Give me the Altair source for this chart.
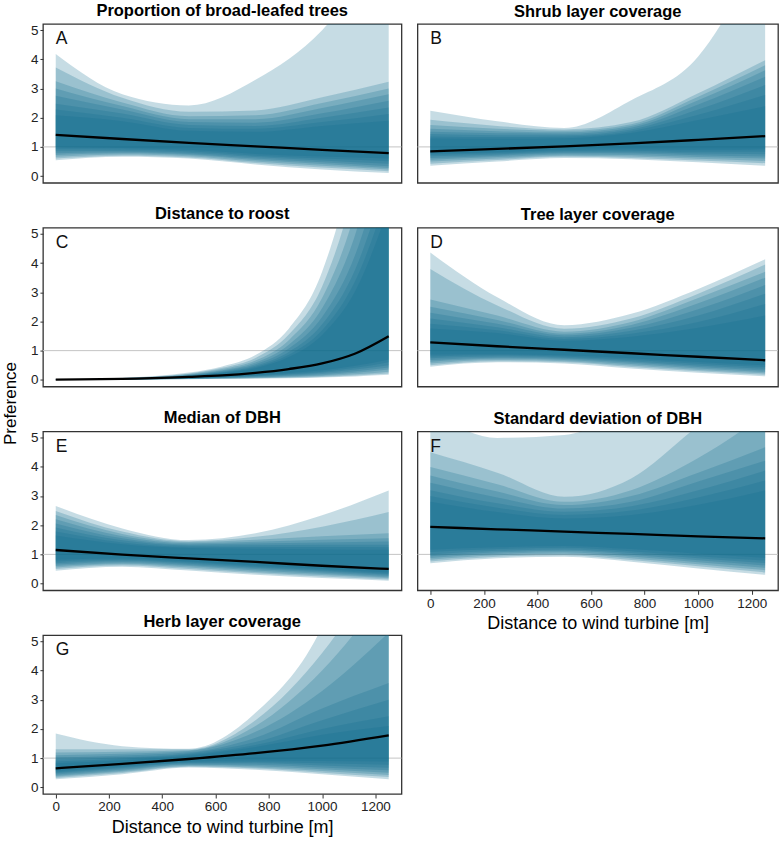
import altair as alt
import pandas as pd

# distance to wind turbine [m] at which the curves were read
X = [0, 250, 500, 750, 1000, 1250]
X_C = [0, 250, 500, 625, 750, 875, 1000, 1125, 1250]
TICKS_X = [0, 200, 400, 600, 800, 1000, 1200]
TICKS_Y = [0, 1, 2, 3, 4, 5]

# ---- A: Proportion of broad-leafed trees ----
MED_A = [1.41, 1.27, 1.14, 1.02, 0.90, 0.79]
UP_A = [
    [4.18, 2.80, 2.42, 3.30, 5.00, 8.00],
    [3.72, 2.68, 2.20, 2.25, 2.70, 3.23],
    [3.25, 2.52, 2.05, 2.08, 2.50, 3.00],
    [3.00, 2.40, 1.95, 1.95, 2.33, 2.80],
    [2.75, 2.28, 1.85, 1.83, 2.15, 2.58],
    [2.48, 2.14, 1.75, 1.72, 2.00, 2.35],
    [2.28, 2.00, 1.65, 1.62, 1.85, 2.13],
    [2.08, 1.88, 1.55, 1.52, 1.72, 1.90],
]
LO_A = [
    [0.54, 0.66, 0.60, 0.40, 0.23, 0.11],
    [0.60, 0.70, 0.64, 0.45, 0.29, 0.17],
    [0.66, 0.74, 0.68, 0.50, 0.35, 0.23],
    [0.72, 0.78, 0.72, 0.55, 0.41, 0.28],
    [0.78, 0.82, 0.76, 0.60, 0.47, 0.34],
    [0.85, 0.86, 0.80, 0.65, 0.53, 0.42],
    [0.92, 0.91, 0.85, 0.70, 0.60, 0.51],
    [1.00, 0.96, 0.90, 0.76, 0.67, 0.60],
]

# ---- B: Shrub layer coverage ----
MED_B = [0.85, 0.93, 1.02, 1.12, 1.24, 1.37]
UP_B = [
    [2.24, 1.88, 1.65, 2.60, 4.10, 8.00],
    [1.93, 1.72, 1.60, 1.85, 2.84, 3.97],
    [1.75, 1.62, 1.55, 1.78, 2.72, 3.80],
    [1.62, 1.54, 1.50, 1.72, 2.60, 3.63],
    [1.52, 1.47, 1.45, 1.66, 2.45, 3.40],
    [1.44, 1.40, 1.40, 1.60, 2.28, 3.12],
    [1.36, 1.34, 1.35, 1.54, 2.10, 2.78],
    [1.29, 1.28, 1.30, 1.48, 1.92, 2.39],
]
LO_B = [
    [0.35, 0.50, 0.62, 0.58, 0.47, 0.35],
    [0.42, 0.55, 0.66, 0.62, 0.53, 0.44],
    [0.50, 0.60, 0.70, 0.67, 0.59, 0.52],
    [0.56, 0.65, 0.74, 0.72, 0.65, 0.60],
    [0.62, 0.70, 0.78, 0.77, 0.71, 0.67],
    [0.68, 0.74, 0.82, 0.82, 0.77, 0.75],
    [0.73, 0.78, 0.86, 0.87, 0.83, 0.83],
    [0.78, 0.82, 0.90, 0.92, 0.90, 0.92],
]

# ---- C: Distance to roost (read on the denser grid X_C) ----
MED_C = [0.01, 0.03, 0.10, 0.15, 0.24, 0.37, 0.56, 0.90, 1.49]
UP_C = [
    [0.020, 0.070, 0.25, 0.46, 0.85, 1.75, 3.70, 8.00, 16.0],
    [0.018, 0.065, 0.22, 0.41, 0.75, 1.55, 3.20, 6.80, 13.0],
    [0.016, 0.060, 0.20, 0.37, 0.66, 1.36, 2.80, 5.80, 11.0],
    [0.015, 0.055, 0.18, 0.33, 0.59, 1.20, 2.45, 5.00, 9.5],
    [0.014, 0.050, 0.16, 0.30, 0.53, 1.07, 2.15, 4.30, 8.2],
    [0.013, 0.046, 0.15, 0.27, 0.48, 0.95, 1.90, 3.80, 7.2],
    [0.012, 0.042, 0.14, 0.25, 0.44, 0.86, 1.70, 3.40, 6.5],
    [0.011, 0.038, 0.13, 0.23, 0.40, 0.78, 1.54, 3.05, 5.9],
]
LO_C = [
    [0.002, 0.003, 0.020, 0.028, 0.040, 0.055, 0.08, 0.115, 0.17],
    [0.002, 0.004, 0.025, 0.035, 0.050, 0.070, 0.10, 0.150, 0.22],
    [0.003, 0.005, 0.030, 0.045, 0.065, 0.090, 0.13, 0.190, 0.28],
    [0.003, 0.006, 0.035, 0.055, 0.080, 0.110, 0.16, 0.240, 0.35],
    [0.004, 0.007, 0.040, 0.065, 0.100, 0.140, 0.20, 0.290, 0.42],
    [0.004, 0.008, 0.045, 0.075, 0.120, 0.170, 0.24, 0.350, 0.50],
    [0.005, 0.009, 0.050, 0.090, 0.140, 0.200, 0.28, 0.410, 0.60],
    [0.005, 0.010, 0.055, 0.100, 0.160, 0.230, 0.33, 0.480, 0.70],
]

# ---- D: Tree layer coverage ----
MED_D = [1.28, 1.15, 1.03, 0.91, 0.79, 0.67]
UP_D = [
    [4.36, 2.83, 1.87, 2.26, 3.11, 4.13],
    [3.80, 2.55, 1.75, 2.10, 2.95, 3.95],
    [2.75, 2.20, 1.65, 1.98, 2.80, 3.70],
    [2.50, 2.05, 1.58, 1.88, 2.62, 3.50],
    [2.30, 1.92, 1.52, 1.78, 2.42, 3.25],
    [2.10, 1.80, 1.46, 1.68, 2.20, 2.95],
    [1.92, 1.70, 1.40, 1.58, 1.98, 2.60],
    [1.76, 1.60, 1.34, 1.48, 1.78, 2.20],
]
LO_D = [
    [0.45, 0.60, 0.56, 0.39, 0.24, 0.12],
    [0.50, 0.64, 0.60, 0.44, 0.29, 0.17],
    [0.56, 0.68, 0.64, 0.49, 0.34, 0.22],
    [0.62, 0.72, 0.68, 0.54, 0.39, 0.27],
    [0.68, 0.76, 0.72, 0.59, 0.44, 0.32],
    [0.74, 0.80, 0.76, 0.64, 0.49, 0.38],
    [0.80, 0.84, 0.80, 0.69, 0.55, 0.44],
    [0.87, 0.88, 0.84, 0.74, 0.61, 0.50],
]

# ---- E: Median of DBH ----
MED_E = [1.15, 0.99, 0.86, 0.74, 0.61, 0.50]
UP_E = [
    [2.66, 1.89, 1.49, 1.72, 2.34, 3.19],
    [2.49, 1.78, 1.45, 1.60, 1.95, 2.45],
    [2.35, 1.70, 1.42, 1.50, 1.62, 1.72],
    [2.20, 1.62, 1.38, 1.43, 1.50, 1.55],
    [2.06, 1.55, 1.34, 1.37, 1.41, 1.44],
    [1.92, 1.48, 1.30, 1.31, 1.33, 1.33],
    [1.78, 1.41, 1.26, 1.25, 1.25, 1.24],
    [1.65, 1.35, 1.22, 1.19, 1.17, 1.16],
]
LO_E = [
    [0.44, 0.58, 0.45, 0.30, 0.19, 0.10],
    [0.50, 0.62, 0.50, 0.35, 0.24, 0.14],
    [0.55, 0.66, 0.55, 0.40, 0.29, 0.18],
    [0.60, 0.70, 0.60, 0.45, 0.34, 0.22],
    [0.65, 0.74, 0.64, 0.50, 0.38, 0.26],
    [0.70, 0.78, 0.68, 0.54, 0.42, 0.30],
    [0.76, 0.82, 0.72, 0.58, 0.46, 0.34],
    [0.82, 0.86, 0.76, 0.62, 0.50, 0.38],
]

# ---- F: Standard deviation of DBH ----
MED_F = [1.94, 1.86, 1.78, 1.70, 1.62, 1.55]
UP_F = [
    [5.90, 4.99, 5.09, 6.30, 9.20, 16.0],
    [4.50, 3.80, 2.97, 3.60, 5.40, 7.00],
    [3.99, 3.40, 2.80, 3.20, 4.30, 5.80],
    [3.70, 3.15, 2.69, 3.00, 3.80, 4.67],
    [3.45, 2.95, 2.57, 2.80, 3.50, 4.21],
    [3.20, 2.75, 2.46, 2.65, 3.20, 3.87],
    [3.00, 2.60, 2.35, 2.50, 2.95, 3.53],
    [2.80, 2.45, 2.23, 2.35, 2.70, 3.19],
]
LO_F = [
    [0.70, 0.87, 0.92, 0.75, 0.52, 0.30],
    [0.76, 0.92, 0.97, 0.81, 0.59, 0.38],
    [0.82, 0.97, 1.02, 0.87, 0.66, 0.46],
    [0.88, 1.02, 1.07, 0.93, 0.73, 0.54],
    [0.94, 1.07, 1.12, 0.99, 0.80, 0.62],
    [1.00, 1.12, 1.17, 1.05, 0.87, 0.70],
    [1.08, 1.18, 1.23, 1.11, 0.94, 0.79],
    [1.16, 1.24, 1.29, 1.18, 1.02, 0.88],
]

# ---- G: Herb layer coverage ----
MED_G = [0.65, 0.80, 0.97, 1.17, 1.43, 1.78]
UP_G = [
    [1.84, 1.41, 1.32, 2.55, 5.50, 12.0],
    [1.30, 1.30, 1.30, 2.30, 4.60, 8.0],
    [1.19, 1.22, 1.27, 2.10, 4.00, 6.8],
    [1.10, 1.15, 1.24, 1.90, 3.30, 5.3],
    [1.02, 1.09, 1.20, 1.70, 2.70, 3.57],
    [0.95, 1.03, 1.16, 1.55, 2.30, 3.00],
    [0.88, 0.98, 1.12, 1.45, 2.00, 2.43],
    [0.82, 0.93, 1.08, 1.38, 1.80, 2.10],
]
LO_G = [
    [0.28, 0.45, 0.68, 0.60, 0.45, 0.28],
    [0.32, 0.49, 0.70, 0.64, 0.50, 0.35],
    [0.36, 0.53, 0.73, 0.68, 0.56, 0.42],
    [0.40, 0.57, 0.76, 0.72, 0.62, 0.50],
    [0.44, 0.61, 0.79, 0.77, 0.68, 0.58],
    [0.48, 0.65, 0.82, 0.82, 0.75, 0.67],
    [0.52, 0.69, 0.85, 0.87, 0.82, 0.77],
    [0.56, 0.73, 0.88, 0.92, 0.90, 0.88],
]

FONT = "Liberation Sans"
BASE = "#0f6e8e"
XDOM = [-48, 1298]
YDOM = [-0.23, 5.21]
XTITLE = "Distance to wind turbine [m]"


def panel(letter, title, xs_, med, up, lo, show_y, show_x, width, ylabel=False):
    rows = []
    for k in range(len(up)):
        for i, xv in enumerate(xs_):
            rows.append({"x": xv, "lo": lo[k][i], "hi": up[k][i], "level": k})
    band_df = pd.DataFrame(rows)
    med_df = pd.DataFrame({"x": xs_, "m": med})

    xs = alt.Scale(domain=XDOM, nice=False, zero=False)
    ys = alt.Scale(domain=YDOM, nice=False, zero=False)
    xaxis = (alt.Axis(values=TICKS_X, format="d", title=XTITLE, tickSize=4,
                      labelPadding=2, titlePadding=5) if show_x else None)
    yaxis = (alt.Axis(values=TICKS_Y, format="d", title=None, tickSize=3,
                      labelPadding=2) if show_y else None)

    ref = alt.Chart(pd.DataFrame({"r": [1]})).mark_rule(
        color="#c4c4c4", strokeWidth=1
    ).encode(y=alt.Y("r:Q", scale=ys, axis=yaxis))

    bands = alt.Chart(band_df).mark_area(
        color=BASE, opacity=0.24, interpolate="monotone", clip=True
    ).encode(
        x=alt.X("x:Q", scale=xs, axis=xaxis),
        y=alt.Y("lo:Q", scale=ys, axis=yaxis),
        y2="hi:Q",
        detail="level:N",
    )

    line = alt.Chart(med_df).mark_line(
        color="black", strokeWidth=2.3, interpolate="monotone", clip=True
    ).encode(
        x=alt.X("x:Q", scale=xs, axis=xaxis),
        y=alt.Y("m:Q", scale=ys, axis=yaxis),
    )

    lab = alt.Chart(pd.DataFrame({"x": [0], "y": [4.52], "t": [letter]})).mark_text(
        align="left", baseline="alphabetic", fontSize=17.5, font=FONT, color="#111111"
    ).encode(
        x=alt.X("x:Q", scale=xs, axis=xaxis),
        y=alt.Y("y:Q", scale=ys, axis=yaxis),
        text="t:N",
    )

    layers = [ref, bands, line, lab]
    if ylabel:
        pref = alt.Chart(pd.DataFrame({"t": ["Preference"]})).mark_text(
            angle=270, fontSize=17, font=FONT, align="center", baseline="middle",
            color="black"
        ).encode(text="t:N", x=alt.value(-32), y=alt.value(176))
        layers.append(pref)

    return alt.layer(*layers).properties(
        width=width,
        height=159,
        title=alt.TitleParams(title, fontSize=16.5, fontWeight="bold", font=FONT,
                              anchor="middle", offset=4, color="black"),
    )


WL, WR = 359, 361
A = panel("A", "Proportion of broad-leafed trees", X, MED_A, UP_A, LO_A, True, False, WL)
B = panel("B", "Shrub layer coverage", X, MED_B, UP_B, LO_B, False, False, WR)
C = panel("C", "Distance to roost", X_C, MED_C, UP_C, LO_C, True, False, WL, ylabel=True)
D = panel("D", "Tree layer coverage", X, MED_D, UP_D, LO_D, False, False, WR)
E = panel("E", "Median of DBH", X, MED_E, UP_E, LO_E, True, False, WL)
F = panel("F", "Standard deviation of DBH", X, MED_F, UP_F, LO_F, False, True, WR)
G = panel("G", "Herb layer coverage", X, MED_G, UP_G, LO_G, True, True, WL)

chart = alt.concat(
    A, B, C, D, E, F, G, columns=2,
    spacing={"row": 45, "column": 16}, bounds="flush",
).properties(
    padding={"left": 1, "top": 0.5, "right": 0, "bottom": 0}
).configure_view(
    stroke="#333333", strokeWidth=1.3
).configure_axis(
    domain=False, grid=False, tickColor="#333333", tickWidth=1,
    labelFont=FONT, labelFontSize=13.5, labelColor="#222222",
    titleFont=FONT, titleFontSize=18, titleFontWeight="normal", titleColor="black",
)

chart.save("out.html", embed_options={"renderer": "svg", "actions": False})
